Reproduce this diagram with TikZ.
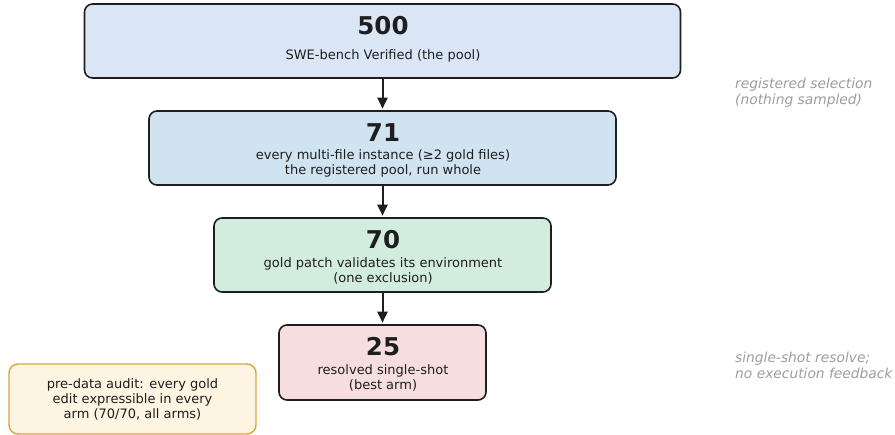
\documentclass[tikz,border=0pt]{standalone}
\usepackage{fontspec}
\setmainfont{DejaVu Sans}
\usetikzlibrary{arrows.meta}
\definecolor{ink}{HTML}{1E1E1E}
\definecolor{fA}{HTML}{DAE6F6}
\definecolor{fB}{HTML}{D0E3F1}
\definecolor{fC}{HTML}{D2ECDE}
\definecolor{fD}{HTML}{F6DDDE}
\definecolor{fE}{HTML}{FEF4E2}
\definecolor{bE}{HTML}{DBA440}
\definecolor{note}{HTML}{9C9CA2}
\begin{document}
\begin{tikzpicture}[x=1pt,y=-1pt,
  stagebox/.style={draw=ink,line width=1.6pt,rounded corners=8pt,inner sep=0pt},
  num/.style={font=\fontsize{24.5}{28}\selectfont\bfseries,text=ink,inner sep=0pt},
  desc/.style={font=\fontsize{13}{15}\selectfont,text=ink,align=center,inner sep=0pt},
  sidenote/.style={font=\fontsize{13.8}{16}\selectfont\itshape,text=note,align=left,inner sep=0pt,anchor=west},
  arr/.style={draw=ink,line width=2pt,shorten >=1.5pt,-{Triangle[length=11pt,width=10pt]}}]
\useasboundingbox (0,0) rectangle (895,435);
% boxes
\node[stagebox,fill=fA,minimum width=596pt,minimum height=74pt] (b1) at (382.5,41) {};
\node[stagebox,fill=fB,minimum width=467pt,minimum height=74pt] (b2) at (382.5,148) {};
\node[stagebox,fill=fC,minimum width=337pt,minimum height=74pt] (b3) at (382.5,255) {};
\node[stagebox,fill=fD,minimum width=207pt,minimum height=75pt] (b4) at (382.5,362.5) {};
% texts
\node[num] (n1) at (383,25.5) {500};
\node[desc] (d1) at (383,56) {SWE-bench Verified (the pool)};
\node[num] (n2) at (383,132.5) {71};
\node[desc] (d2) at (383,163.5) {every multi-file instance (≥2 gold files)\\the registered pool, run whole};
\node[num] (n3) at (383,239.5) {70};
\node[desc] (d3) at (383,270.5) {gold patch validates its environment\\(one exclusion)};
\node[num] (n4) at (383,346.5) {25};
\node[desc] (d4) at (383,377.5) {resolved single-shot\\(best arm)};
% arrows
\draw[arr] (b1.south) -- (b2.north);
\draw[arr] (b2.south) -- (b3.north);
\draw[arr] (b3.south) -- (b4.north);
% audit box
\node[draw=bE,fill=fE,line width=1.4pt,rounded corners=9pt,minimum width=247pt,minimum height=70pt,
  font=\fontsize{13}{15}\selectfont,text=ink,align=center,inner sep=0pt] (audit) at (132.5,399)
  {pre-data audit: every gold\\edit expressible in every\\arm (70/70, all arms)};
% side notes
\node[sidenote] (s1) at (735,92.5) {registered selection\\(nothing sampled)};
\node[sidenote] (s2) at (735,365.5) {single-shot resolve;\\no execution feedback};
\end{tikzpicture}
\end{document}
